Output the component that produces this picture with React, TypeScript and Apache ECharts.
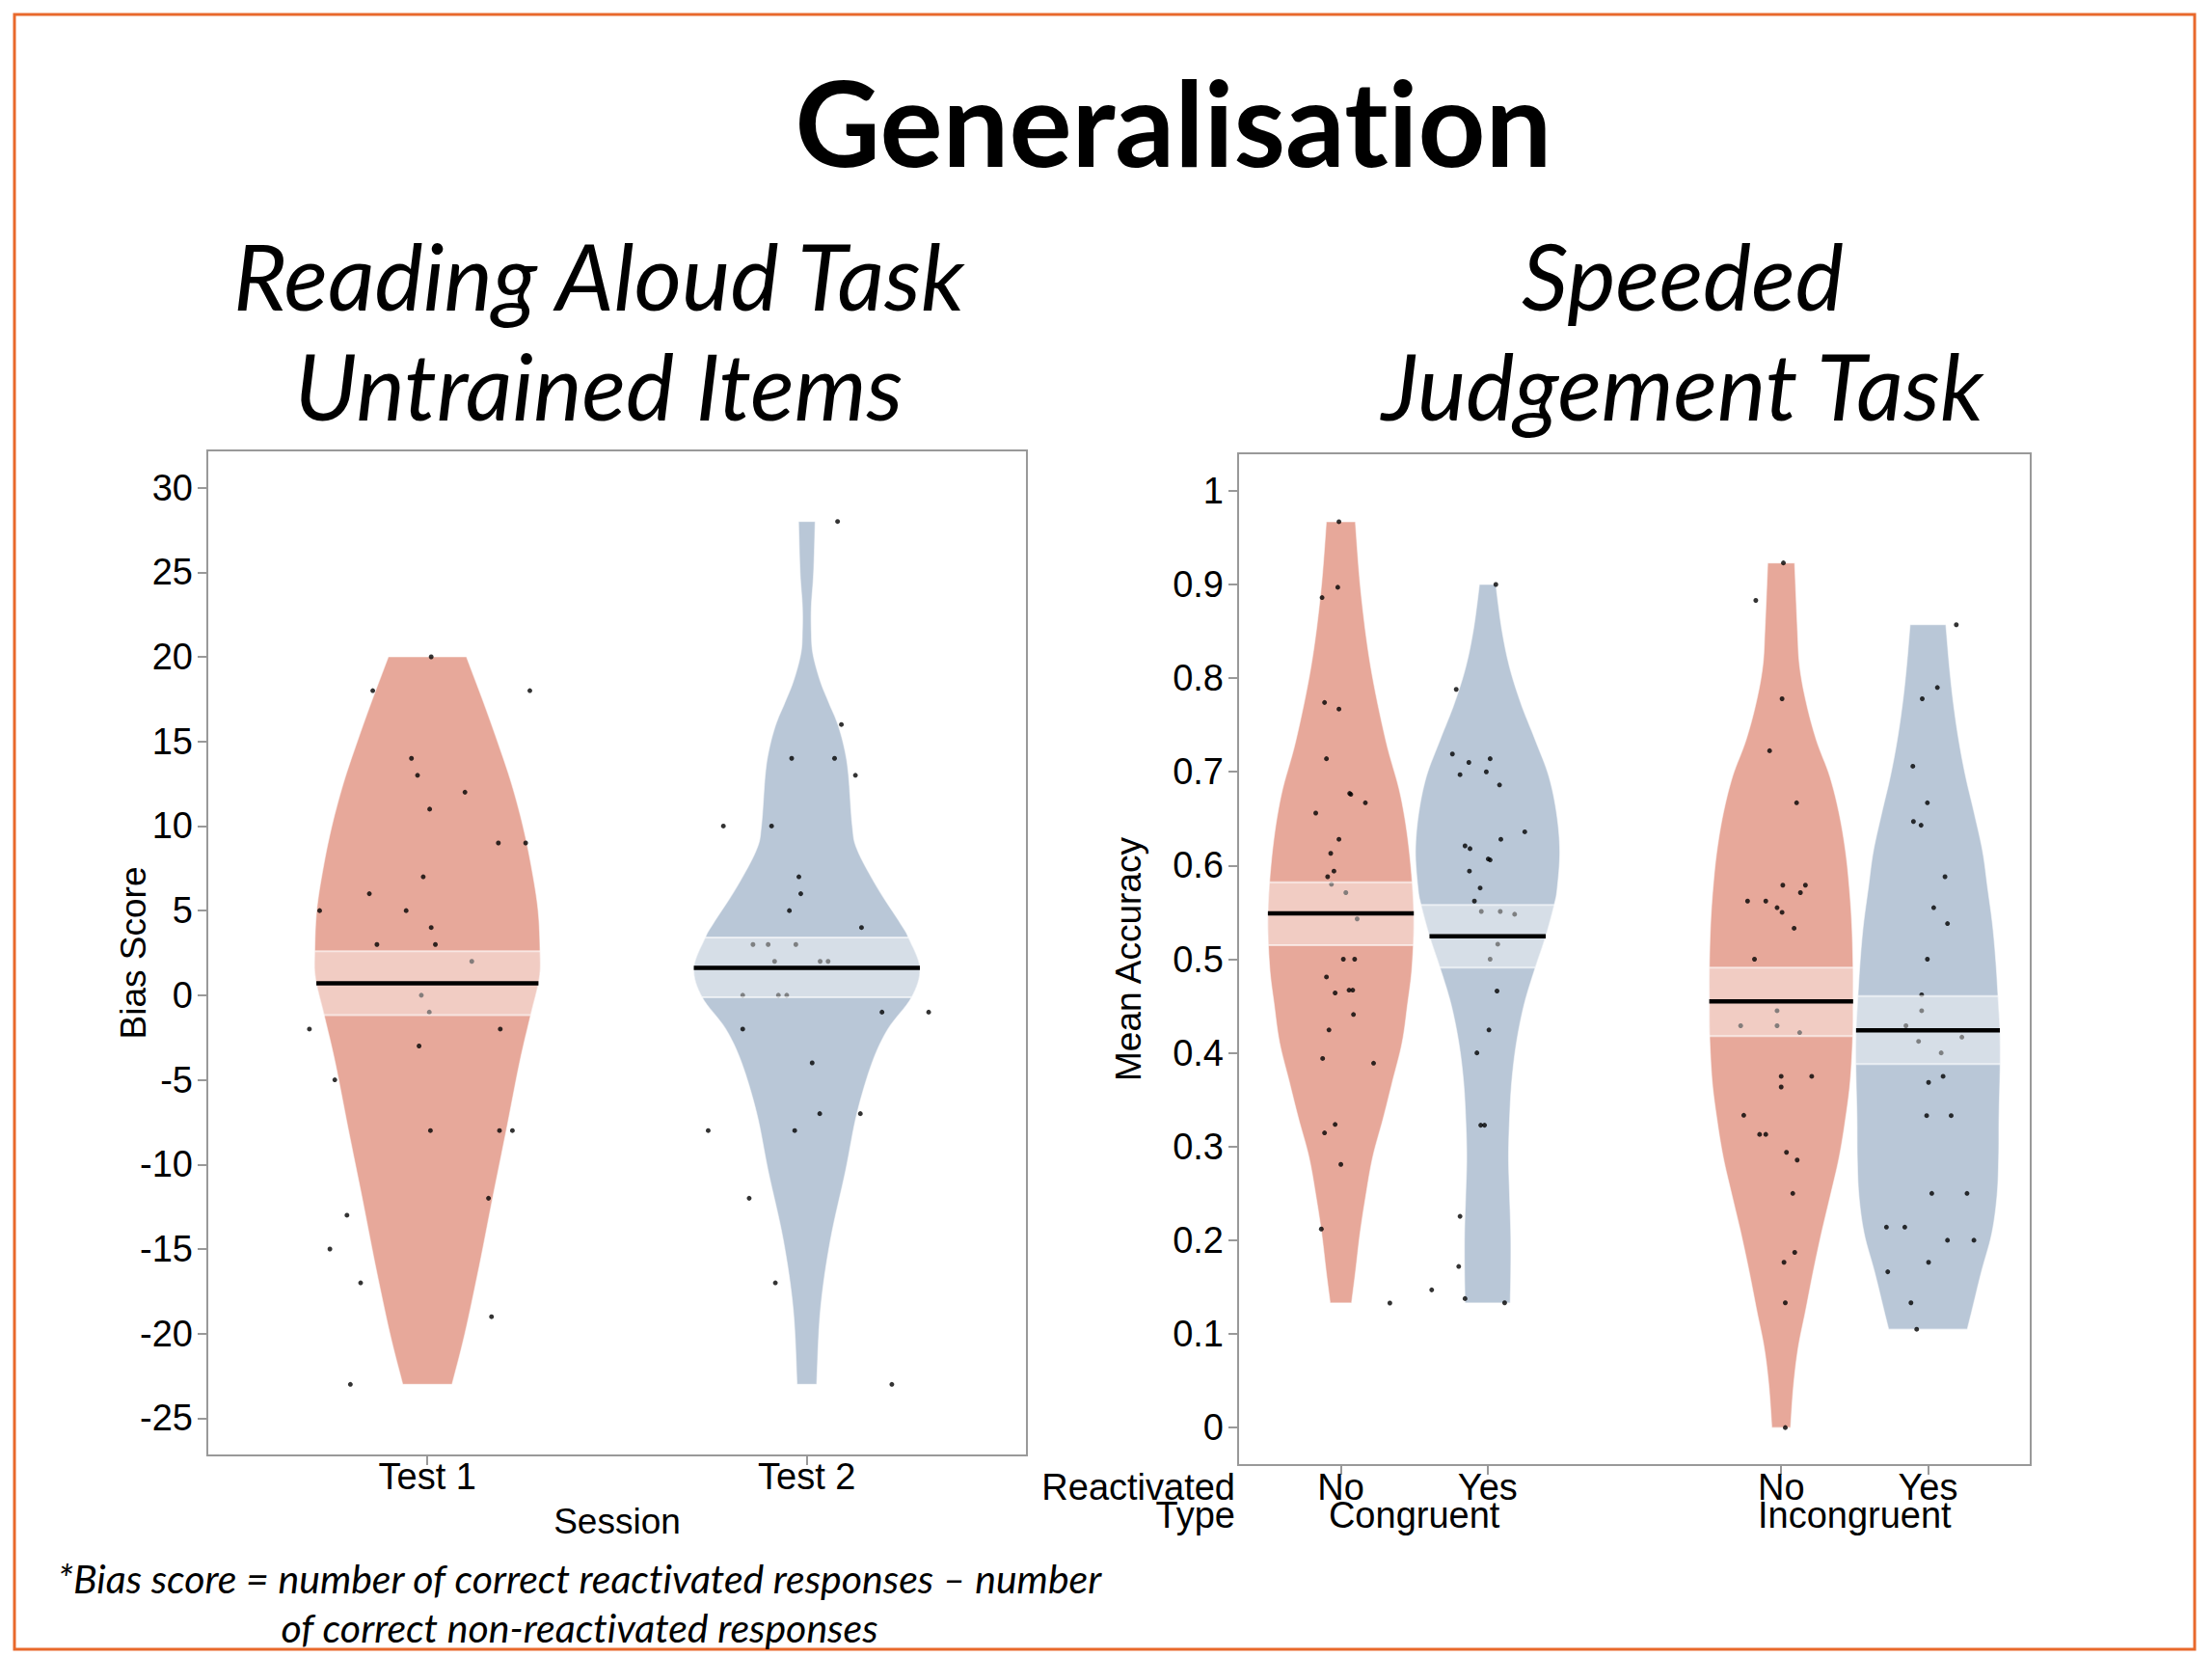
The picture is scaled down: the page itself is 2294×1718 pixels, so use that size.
import React, { useEffect, useRef } from 'react';
import * as echarts from 'echarts';

// ---------- categories & ticks ----------
const sessions = ['Test 1', 'Test 2'];
const sessionPositions = [1, 2];
const reactivatedLabels = ['No', 'Yes', 'No', 'Yes'];
const reactivatedPositions = [1, 2, 4, 5];
const typeLabels = ['Congruent', 'Incongruent'];
const typePositions = [1.5, 4.5];
const biasTicks = [-25, -20, -15, -10, -5, 0, 5, 10, 15, 20, 25, 30];
const accuracyTicks = [0, 0.1, 0.2, 0.3, 0.4, 0.5, 0.6, 0.7, 0.8, 0.9, 1];

// ---------- means and inference bands ----------
const biasMeans = [0.7, 1.62];
const biasBandLow = [-1.17, -0.12];
const biasBandHigh = [2.6, 3.41];
const accMeans = [0.549, 0.5245, 0.455, 0.424];
const accBandLow = [0.515, 0.491, 0.418, 0.388];
const accBandHigh = [0.582, 0.558, 0.491, 0.4605];

// ---------- bean outlines: [value, half width in axis units] ----------
const test1Density = [[20, 0.103], [17.5, 0.145], [15, 0.185], [12.5, 0.222], [10, 0.252], [7.5, 0.275], [5, 0.292], [2.6, 0.297], [1, 0.295], [-1.2, 0.272], [-4, 0.243], [-8, 0.208], [-12, 0.172], [-16, 0.137], [-20, 0.099], [-23, 0.065]];
const test2Density = [[28, 0.022], [25, 0.018], [23, 0.012], [21.5, 0.012], [20.2, 0.016], [18.6, 0.035], [17.3, 0.058], [16, 0.082], [14.5, 0.1], [13, 0.11], [10, 0.12], [8.6, 0.133], [6.4, 0.185], [4.2, 0.248], [3.4, 0.268], [1.6, 0.298], [-0.13, 0.276], [-2, 0.214], [-4, 0.172], [-7, 0.132], [-10.4, 0.102], [-14.5, 0.062], [-18.6, 0.036], [-23, 0.026]];
const congNoDensity = [[0.967, 0.099], [0.892, 0.137], [0.813, 0.203], [0.734, 0.306], [0.675, 0.407], [0.615, 0.467], [0.549, 0.497], [0.493, 0.486], [0.452, 0.455], [0.411, 0.418], [0.37, 0.353], [0.33, 0.289], [0.289, 0.218], [0.248, 0.171], [0.207, 0.131], [0.166, 0.1], [0.133, 0.073]];
const congYesDensity = [[0.9, 0.056], [0.853, 0.096], [0.813, 0.148], [0.774, 0.225], [0.734, 0.325], [0.695, 0.418], [0.655, 0.471], [0.615, 0.492], [0.576, 0.475], [0.558, 0.454], [0.5245, 0.396], [0.491, 0.325], [0.452, 0.25], [0.411, 0.197], [0.37, 0.165], [0.33, 0.15], [0.289, 0.143], [0.248, 0.15], [0.207, 0.158], [0.166, 0.158], [0.133, 0.154]];
const incNoDensity = [[0.923, 0.092], [0.853, 0.111], [0.813, 0.126], [0.774, 0.171], [0.734, 0.24], [0.695, 0.332], [0.655, 0.396], [0.615, 0.439], [0.576, 0.465], [0.536, 0.482], [0.491, 0.49], [0.455, 0.49], [0.418, 0.488], [0.37, 0.471], [0.33, 0.439], [0.289, 0.396], [0.248, 0.336], [0.207, 0.274], [0.166, 0.218], [0.125, 0.167], [0.085, 0.116], [0.044, 0.084], [0.0, 0.064]];
const incYesDensity = [[0.857, 0.122], [0.813, 0.146], [0.774, 0.173], [0.734, 0.21], [0.695, 0.257], [0.655, 0.317], [0.615, 0.373], [0.576, 0.407], [0.536, 0.441], [0.497, 0.463], [0.459, 0.478], [0.424, 0.49], [0.388, 0.492], [0.33, 0.484], [0.289, 0.482], [0.248, 0.471], [0.207, 0.435], [0.166, 0.364], [0.125, 0.3], [0.105, 0.268]];

// ---------- raw points: values and horizontal jitter ----------
const test1Values = [20, 18, 18, 14, 13, 12, 11, 9, 9, 7, 6, 5, 5, 4, 3, 3, 2, 0, -1, -2, -2, -3, -5, -8, -8, -8, -12, -13, -15, -17, -19, -23];
const test1Jitter = [0.01, -0.144, 0.27, -0.042, -0.026, 0.099, 0.006, 0.187, 0.259, -0.011, -0.153, -0.284, -0.056, 0.01, -0.133, 0.021, 0.117, -0.016, 0.005, -0.311, 0.192, -0.022, -0.244, 0.008, 0.19, 0.224, 0.161, -0.212, -0.257, -0.176, 0.169, -0.203];
const test2Values = [28, 16, 14, 14, 13, 10, 10, 7, 6, 5, 4, 3, 3, 3, 2, 2, 2, 0, 0, 0, -1, -1, -2, -4, -7, -7, -8, -8, -12, -17, -23];
const test2Jitter = [0.081, 0.091, -0.04, 0.073, 0.128, -0.22, -0.093, -0.021, -0.016, -0.046, 0.144, -0.142, -0.102, -0.029, -0.085, 0.035, 0.056, -0.169, -0.075, -0.053, 0.198, 0.321, -0.169, 0.014, 0.034, 0.141, -0.26, -0.032, -0.152, -0.083, 0.224];

const congNoValues = [0.967, 0.886, 0.897, 0.774, 0.767, 0.714, 0.677, 0.676, 0.667, 0.656, 0.628, 0.613, 0.594, 0.588, 0.58, 0.571, 0.543, 0.5, 0.5, 0.481, 0.464, 0.467, 0.467, 0.441, 0.4245, 0.394, 0.389, 0.3236, 0.3146, 0.281, 0.212, 0.133];
const congNoJitter = [-0.013, -0.128, -0.021, -0.111, -0.013, -0.098, 0.06, 0.068, 0.167, -0.171, -0.013, -0.069, -0.047, -0.09, -0.064, 0.034, 0.111, 0.017, 0.094, -0.098, -0.039, 0.056, 0.081, 0.086, -0.081, -0.124, 0.223, -0.039, -0.111, 0, -0.133, 0.334];
const congYesValues = [0.9, 0.788, 0.719, 0.714, 0.71, 0.7, 0.697, 0.686, 0.636, 0.628, 0.621, 0.618, 0.607, 0.606, 0.594, 0.576, 0.562, 0.551, 0.551, 0.548, 0.516, 0.5, 0.466, 0.4245, 0.4, 0.3228, 0.3228, 0.2255, 0.172, 0.147, 0.1377, 0.1332];
const congYesJitter = [0.056, -0.214, -0.24, 0.017, -0.128, -0.009, -0.188, 0.081, 0.253, 0.09, -0.154, -0.12, 0.004, 0.017, -0.124, -0.051, -0.09, -0.043, 0.086, 0.184, 0.069, 0.017, 0.064, 0.009, -0.073, -0.047, -0.021, -0.188, -0.197, -0.381, -0.154, 0.116];
const incNoValues = [0.923, 0.883, 0.778, 0.7225, 0.667, 0.579, 0.579, 0.571, 0.562, 0.562, 0.555, 0.55, 0.533, 0.5, 0.445, 0.429, 0.429, 0.4217, 0.375, 0.375, 0.3636, 0.3334, 0.313, 0.313, 0.2938, 0.2856, 0.25, 0.187, 0.1765, 0.1332, 0.0];
const incNoJitter = [0.015, -0.173, 0.006, -0.079, 0.105, 0.011, 0.165, 0.131, -0.229, -0.105, -0.028, 0.006, 0.088, -0.182, -0.028, -0.276, -0.028, 0.126, 0, 0.208, 0, -0.255, -0.147, -0.105, 0.036, 0.109, 0.079, 0.092, 0.019, 0.028, 0.028];
const incYesValues = [0.857, 0.79, 0.778, 0.706, 0.667, 0.647, 0.643, 0.588, 0.555, 0.538, 0.5, 0.462, 0.445, 0.429, 0.4168, 0.4123, 0.4, 0.375, 0.3685, 0.333, 0.333, 0.25, 0.25, 0.214, 0.214, 0.2, 0.2, 0.1765, 0.1663, 0.1332, 0.105];
const incYesJitter = [0.193, 0.064, -0.039, -0.103, -0.004, -0.099, -0.047, 0.116, 0.039, 0.133, -0.004, -0.043, -0.043, -0.15, 0.231, -0.064, 0.09, 0.103, 0.004, -0.009, 0.158, 0.026, 0.266, -0.283, -0.158, 0.133, 0.313, 0.004, -0.274, -0.116, -0.077];

const RED = '#E7A89A';
const BLUE = '#B9C7D7';
const AXIS_FONT = '"Liberation Sans", Arial, sans-serif';
const TEXT_FONT = 'Lato, "Open Sans", sans-serif';

function catmull(pts: number[][], seg = 8): number[][] {
  const out: number[][] = [];
  const n = pts.length;
  for (let i = 0; i < n - 1; i++) {
    const p0 = pts[Math.max(i - 1, 0)], p1 = pts[i], p2 = pts[i + 1], p3 = pts[Math.min(i + 2, n - 1)];
    for (let k = 0; k < seg; k++) {
      const t = k / seg, t2 = t * t, t3 = t2 * t;
      out.push([0, 1].map((d) => 0.5 * (2 * p1[d] + (-p0[d] + p2[d]) * t + (2 * p0[d] - 5 * p1[d] + 4 * p2[d] - p3[d]) * t2 + (-p0[d] + 3 * p1[d] - 3 * p2[d] + p3[d]) * t3)));
    }
  }
  out.push(pts[n - 1].slice());
  return out;
}

function xAtY(curve: number[][], py: number): number {
  for (let i = 0; i < curve.length - 1; i++) {
    const a = curve[i], b = curve[i + 1];
    if ((py >= a[1] && py <= b[1]) || (py <= a[1] && py >= b[1])) {
      const t = b[1] === a[1] ? 0 : (py - a[1]) / (b[1] - a[1]);
      return a[0] + t * (b[0] - a[0]);
    }
  }
  return curve[0][0];
}

function leftCurve(api: any, x: number, profile: number[][]): number[][] {
  const p = profile.map(([y, hw]) => api.coord([x - hw, y]));
  return catmull(p, 8);
}

function makeBeanRender(profiles: number[][][], colors: string[]) {
  return (params: any, api: any) => {
    const x = api.value(0);
    const idx = api.value(2);
    const curve = leftCurve(api, x, profiles[idx]);
    const cx = api.coord([x, 0])[0];
    const right = curve.map(([px, py]) => [2 * cx - px, py]).reverse();
    return {
      type: 'polygon',
      shape: { points: curve.concat(right) },
      style: { fill: colors[idx], stroke: 'rgba(255,255,255,0.55)', lineWidth: 1.2 },
    };
  };
}

function makeBandRender(profiles: number[][][], lows: number[], highs: number[]) {
  return (params: any, api: any) => {
    const x = api.value(0);
    const mean = api.value(1);
    const idx = api.value(2);
    const curve = leftCurve(api, x, profiles[idx]);
    const cx = api.coord([x, 0])[0];
    const pyTop = api.coord([x, highs[idx]])[1];
    const pyBot = api.coord([x, lows[idx]])[1];
    const pyMean = api.coord([x, mean])[1];
    const left: number[][] = [[xAtY(curve, pyTop), pyTop]];
    curve.forEach(([px, py]) => { if (py > pyTop && py < pyBot) left.push([px, py]); });
    left.push([xAtY(curve, pyBot), pyBot]);
    const right = left.map(([px, py]) => [2 * cx - px, py]).reverse();
    const mx = xAtY(curve, pyMean);
    const tl = left[0][0], bl = left[left.length - 1][0];
    return {
      type: 'group',
      children: [
        { type: 'polygon', shape: { points: left.concat(right) }, style: { fill: 'rgba(255,255,255,0.41)' } },
        { type: 'line', shape: { x1: tl, y1: pyTop, x2: 2 * cx - tl, y2: pyTop }, style: { stroke: 'rgba(255,255,255,0.6)', lineWidth: 2 } },
        { type: 'line', shape: { x1: bl, y1: pyBot, x2: 2 * cx - bl, y2: pyBot }, style: { stroke: 'rgba(255,255,255,0.6)', lineWidth: 2 } },
        { type: 'line', shape: { x1: mx, y1: pyMean, x2: 2 * cx - mx, y2: pyMean }, style: { stroke: '#000', lineWidth: 4.5 } },
      ],
    };
  };
}

function pts(pos: number, values: number[], jitter: number[]) {
  return values.map((v, i) => [pos + jitter[i], v]);
}

function scatter(xi: number, data: number[][]) {
  return {
    type: 'scatter', xAxisIndex: xi, yAxisIndex: xi === 0 ? 0 : 1, data, z: 3,
    symbol: 'circle', symbolSize: 5, itemStyle: { color: '#000' }, silent: true,
  };
}

const tickStyle = { show: true, length: 10, inside: false, lineStyle: { color: '#999', width: 2 } };
const labelBase = { color: '#000', fontSize: 38, fontFamily: AXIS_FONT };
const nameStyle = { color: '#000', fontSize: 37, fontFamily: AXIS_FONT };
const hiddenLine = { show: false, onZero: false };

export default function App() {
  const ref = useRef<HTMLDivElement>(null);
  useEffect(() => {
    if (!ref.current) return;
    const chart = echarts.init(ref.current, null, { renderer: 'svg' });
    const leftProfiles = [test1Density, test2Density];
    const rightProfiles = [congNoDensity, congYesDensity, incNoDensity, incYesDensity];
    const leftBeans = sessionPositions.map((p, i) => [p, biasMeans[i], i]);
    const rightBeans = reactivatedPositions.map((p, i) => [p, accMeans[i], i]);
    const option: any = {
      animation: false,
      backgroundColor: '#fff',
      grid: [
        { left: 215, top: 467, width: 850, height: 1042, show: true, borderColor: '#999', borderWidth: 2, backgroundColor: 'transparent' },
        { left: 1284, top: 470, width: 822, height: 1049, show: true, borderColor: '#999', borderWidth: 2, backgroundColor: 'transparent' },
      ],
      xAxis: [
        {
          gridIndex: 0, type: 'value', position: 'bottom', min: 0.42, max: 2.58,
          axisLine: hiddenLine, splitLine: { show: false },
          axisTick: { ...tickStyle, customValues: sessionPositions },
          axisLabel: { ...labelBase, lineHeight: 38, margin: 3, customValues: sessionPositions, formatter: (v: number) => sessions[sessionPositions.indexOf(v)] ?? '' },
          name: 'Session', nameLocation: 'middle', nameGap: 50, nameTextStyle: nameStyle,
        },
        {
          gridIndex: 1, type: 'value', position: 'bottom', min: 0.3, max: 5.7,
          axisLine: hiddenLine, splitLine: { show: false },
          axisTick: { ...tickStyle, customValues: reactivatedPositions },
          axisLabel: { ...labelBase, lineHeight: 28, margin: 9, customValues: reactivatedPositions, formatter: (v: number) => reactivatedLabels[reactivatedPositions.indexOf(v)] ?? '' },
        },
        {
          gridIndex: 1, type: 'value', position: 'bottom', min: 0.3, max: 5.7,
          axisLine: hiddenLine, splitLine: { show: false }, axisTick: { show: false },
          axisLabel: { ...labelBase, lineHeight: 28, margin: 38, customValues: typePositions, formatter: (v: number) => typeLabels[typePositions.indexOf(v)] ?? '' },
        },
      ],
      yAxis: [
        {
          gridIndex: 0, type: 'value', min: -27.2, max: 32.2,
          axisLine: hiddenLine, splitLine: { show: false },
          axisTick: { ...tickStyle, customValues: biasTicks },
          axisLabel: { ...labelBase, margin: 15, customValues: biasTicks },
          name: 'Bias Score', nameLocation: 'middle', nameGap: 58, nameMoveOverlap: false, nameTextStyle: nameStyle,
        },
        {
          gridIndex: 1, type: 'value', min: -0.04, max: 1.04,
          axisLine: hiddenLine, splitLine: { show: false },
          axisTick: { ...tickStyle, customValues: accuracyTicks },
          axisLabel: { ...labelBase, margin: 15, customValues: accuracyTicks },
          name: 'Mean Accuracy', nameLocation: 'middle', nameGap: 95, nameMoveOverlap: false, nameTextStyle: nameStyle,
        },
      ],
      series: [
        { type: 'custom', xAxisIndex: 0, yAxisIndex: 0, z: 2, silent: true, data: leftBeans, encode: { x: 0, y: 1 }, renderItem: makeBeanRender(leftProfiles, [RED, BLUE]) },
        scatter(0, pts(sessionPositions[0], test1Values, test1Jitter)),
        scatter(0, pts(sessionPositions[1], test2Values, test2Jitter)),
        { type: 'custom', xAxisIndex: 0, yAxisIndex: 0, z: 4, silent: true, data: leftBeans, encode: { x: 0, y: 1 }, renderItem: makeBandRender(leftProfiles, biasBandLow, biasBandHigh) },
        { type: 'custom', xAxisIndex: 1, yAxisIndex: 1, z: 2, silent: true, data: rightBeans, encode: { x: 0, y: 1 }, renderItem: makeBeanRender(rightProfiles, [RED, BLUE, RED, BLUE]) },
        scatter(1, pts(reactivatedPositions[0], congNoValues, congNoJitter)),
        scatter(1, pts(reactivatedPositions[1], congYesValues, congYesJitter)),
        scatter(1, pts(reactivatedPositions[2], incNoValues, incNoJitter)),
        scatter(1, pts(reactivatedPositions[3], incYesValues, incYesJitter)),
        { type: 'custom', xAxisIndex: 1, yAxisIndex: 1, z: 4, silent: true, data: rightBeans, encode: { x: 0, y: 1 }, renderItem: makeBandRender(rightProfiles, accBandLow, accBandHigh) },
      ],
      graphic: [
        { type: 'rect', silent: true, z: -1, shape: { x: 15, y: 15, width: 2261, height: 1695 }, style: { fill: 'none', stroke: '#E8692C', lineWidth: 3 } },
        { type: 'text', x: 1217, y: 126, style: { text: 'Generalisation', fontSize: 122, fontWeight: 'bold', fontFamily: TEXT_FONT, fill: '#000', align: 'center', verticalAlign: 'middle' } },
        { type: 'text', x: 621, y: 285, style: { text: 'Reading Aloud Task', fontSize: 95, fontStyle: 'italic', fontFamily: TEXT_FONT, fill: '#000', align: 'center', verticalAlign: 'middle' } },
        { type: 'text', x: 621, y: 399, style: { text: 'Untrained Items', fontSize: 95, fontStyle: 'italic', fontFamily: TEXT_FONT, fill: '#000', align: 'center', verticalAlign: 'middle' } },
        { type: 'text', x: 1745, y: 285, style: { text: 'Speeded', fontSize: 95, fontStyle: 'italic', fontFamily: TEXT_FONT, fill: '#000', align: 'center', verticalAlign: 'middle' } },
        { type: 'text', x: 1745, y: 399, style: { text: 'Judgement Task', fontSize: 95, fontStyle: 'italic', fontFamily: TEXT_FONT, fill: '#000', align: 'center', verticalAlign: 'middle' } },
        { type: 'text', x: 1281, y: 1542, style: { text: 'Reactivated', fontSize: 38, lineHeight: 28, fontFamily: AXIS_FONT, fill: '#000', align: 'right', verticalAlign: 'middle' } },
        { type: 'text', x: 1281, y: 1571, style: { text: 'Type', fontSize: 38, lineHeight: 28, fontFamily: AXIS_FONT, fill: '#000', align: 'right', verticalAlign: 'middle' } },
        { type: 'text', x: 601, y: 1636, style: { text: '*Bias score = number of correct reactivated responses \u2013 number', fontSize: 41, fontStyle: 'italic', fontFamily: TEXT_FONT, fill: '#000', align: 'center', verticalAlign: 'middle' } },
        { type: 'text', x: 601, y: 1687, style: { text: 'of correct non-reactivated responses', fontSize: 41, fontStyle: 'italic', fontFamily: TEXT_FONT, fill: '#000', align: 'center', verticalAlign: 'middle' } },
      ],
    };
    chart.setOption(option);
    return () => chart.dispose();
  }, []);
  return <div ref={ref} style={{ position: 'fixed', left: 0, top: 0, width: 2294, height: 1718, background: '#fff', fontVariantLigatures: 'none' }} />;
}
